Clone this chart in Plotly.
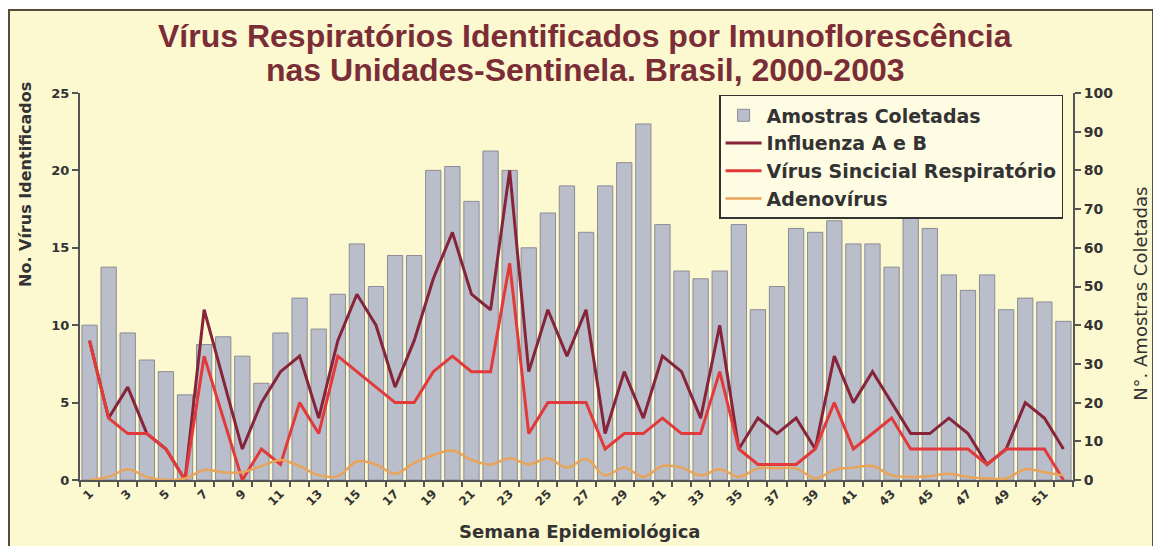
import plotly.graph_objects as go

weeks = list(range(1, 53))
amostras = [40, 55, 38, 31, 28, 22, 35, 37, 32, 25,
            38, 47, 39, 48, 61, 50, 58, 58, 80, 81,
            72, 85, 80, 60, 69, 76, 64, 76, 82, 92,
            66, 54, 52, 54, 66, 44, 50, 65, 64, 67,
            61, 61, 55, 68, 65, 53, 49, 53, 44, 47,
            46, 41]
influenza = [9, 4, 6, 3, 2, 0, 11, 6.5, 2, 5,
             7, 8, 4, 9, 12, 10, 6, 9, 13, 16,
             12, 11, 20, 7, 11, 8, 11, 3, 7, 4,
             8, 7, 4, 10, 2, 4, 3, 4, 2, 8,
             5, 7, 5, 3, 3, 4, 3, 1, 2, 5,
             4, 2]
vsr = [9, 4, 3, 3, 2, 0, 8, 4, 0, 2,
       1, 5, 3, 8, 7, 6, 5, 5, 7, 8,
       7, 7, 14, 3, 5, 5, 5, 2, 3, 3,
       4, 3, 3, 7, 2, 1, 1, 1, 2, 5,
       2, 3, 4, 2, 2, 2, 2, 1, 2, 2,
       2, 0]
adeno = [0, 0.2, 0.7, 0.2, 0, 0.1, 0.65, 0.5, 0.5, 0.9,
         1.3, 0.9, 0.3, 0.25, 1.2, 1.0, 0.4, 1.1, 1.6, 1.9,
         1.3, 1.0, 1.4, 1.0, 1.4, 0.8, 1.35, 0.3, 0.8, 0.2,
         0.9, 0.8, 0.3, 0.7, 0.2, 0.75, 0.75, 0.75, 0.1, 0.65,
         0.8, 0.9, 0.3, 0.2, 0.25, 0.4, 0.2, 0.1, 0.1, 0.7,
         0.5, 0.3]
tick_weeks = list(range(1, 52, 2))
tick_labels = [str(w) for w in tick_weeks]

TXT = "#333333"
AX = "#555555"
BOLD = dict(family="DejaVu Sans", weight="bold", color=TXT)

fig = go.Figure()
fig.add_trace(go.Bar(x=weeks, y=amostras, name="Amostras Coletadas",
                     marker=dict(color="#BABECA", line=dict(color="#8C8C98", width=1)),
                     yaxis="y"))
fig.add_trace(go.Scatter(x=weeks, y=influenza, name="Influenza A e B", mode="lines",
                         line=dict(color="#86253A", width=3), yaxis="y2"))
fig.add_trace(go.Scatter(x=weeks, y=vsr, name="Vírus Sincicial Respiratório", mode="lines",
                         line=dict(color="#E23A3A", width=3), yaxis="y2"))
fig.add_trace(go.Scatter(x=weeks, y=adeno, name="Adenovírus", mode="lines",
                         line=dict(color="#E8A458", width=2.5, shape="spline", smoothing=1),
                         yaxis="y2"))

fig.update_layout(
    width=1153, height=538,
    margin=dict(l=72, r=88, t=85, b=66),
    paper_bgcolor="white",
    plot_bgcolor="rgba(0,0,0,0)",
    bargap=0.2,
    showlegend=True,
    legend=dict(x=0.99, y=0.995, xanchor="right", yanchor="top",
                bgcolor="#FFFCE4", bordercolor="#333333", borderwidth=1.5,
                font=dict(family="DejaVu Sans", weight="bold", size=19, color=TXT),
                traceorder="normal", itemwidth=36),
    xaxis=dict(range=[0.5, 52.5], tickmode="array", tickvals=tick_weeks, ticktext=tick_labels,
               tickangle=-45, tickfont=dict(BOLD, size=12), ticks="",
               showline=True, linecolor=AX, linewidth=2, showgrid=False, zeroline=False,
               minor=dict(tickmode="linear", tick0=0.5, dtick=1, ticks="outside",
                          ticklen=5, tickcolor=AX, tickwidth=1.5, showgrid=False)),
    yaxis=dict(range=[0, 100], dtick=10, side="right", showgrid=False, zeroline=False,
               showline=True, linecolor=AX, linewidth=2, ticks="outside", ticklen=6,
               tickcolor=AX, tickwidth=1.5, tickfont=dict(BOLD, size=14)),
    yaxis2=dict(range=[0, 25], dtick=5, side="left", overlaying="y", showgrid=False,
                zeroline=False, showline=True, linecolor=AX, linewidth=2, ticks="outside",
                ticklen=6, tickcolor=AX, tickwidth=1.5, tickfont=dict(BOLD, size=13)),
    shapes=[dict(type="rect", xref="paper", yref="paper", x0=-0.0715, x1=1.0806,
                 y0=-0.2, y1=1.2145, fillcolor="#FCF8CF",
                 line=dict(color="#5A4A3A", width=2), layer="below")],
    annotations=[
        dict(text="Vírus Respiratórios Identificados por Imunoflorescência", xref="paper", yref="paper",
             x=0.5086, y=1.1473, showarrow=False, xanchor="center", yanchor="middle",
             font=dict(family="Liberation Sans", weight="bold", size=32, color="#7A2D36")),
        dict(text="nas Unidades-Sentinela. Brasil, 2000-2003", xref="paper", yref="paper",
             x=0.5086, y=1.0594, showarrow=False, xanchor="center", yanchor="middle",
             font=dict(family="Liberation Sans", weight="bold", size=32, color="#7A2D36")),
        dict(text="No. Vírus Identificados", xref="paper", yref="paper", x=-0.0544, y=0.765,
             textangle=-90, showarrow=False, xanchor="center", yanchor="middle",
             font=dict(BOLD, size=16)),
        dict(text="N°. Amostras Coletadas", xref="paper", yref="paper", x=1.0685, y=0.481,
             textangle=-90, showarrow=False, xanchor="center", yanchor="middle",
             font=dict(family="DejaVu Sans", size=18, color=TXT)),
        dict(text="Semana Epidemiológica", xref="paper", yref="paper", x=0.5035, y=-0.132,
             showarrow=False, xanchor="center", yanchor="middle",
             font=dict(BOLD, size=18)),
    ],
)

fig.write_html("out.html")
